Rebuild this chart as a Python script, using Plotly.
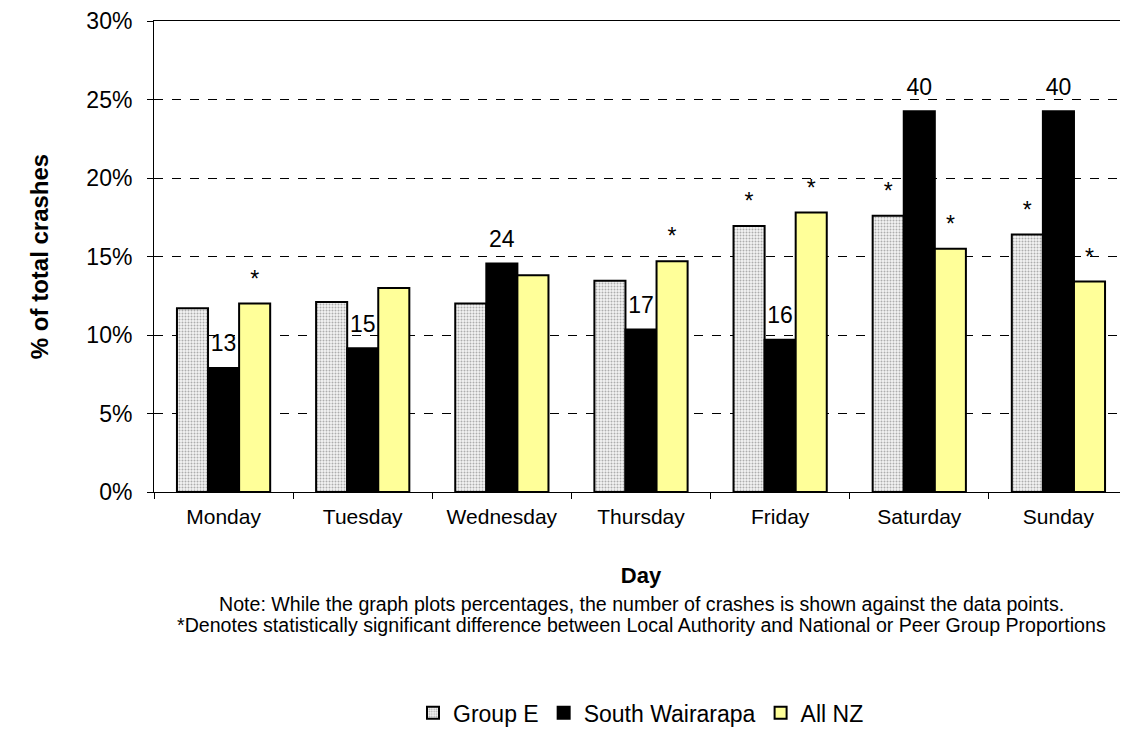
import plotly.graph_objects as go

days = ["Monday", "Tuesday", "Wednesday", "Thursday", "Friday", "Saturday", "Sunday"]
group_e = [11.7, 12.1, 12.0, 13.45, 16.95, 17.6, 16.4]
south_wairarapa = [7.9, 9.15, 14.55, 10.35, 9.7, 24.25, 24.25]
all_nz = [12.0, 13.0, 13.8, 14.7, 17.8, 15.5, 13.4]
sw_counts = ["13", "15", "24", "17", "16", "40", "40"]
group_e_sig = ["", "", "", "", "*", "*", "*"]
all_nz_sig = ["*", "", "", "*", "*", "*", "*"]

FONT = "Liberation Sans, Arial, sans-serif"

fig = go.Figure()
series = [
    ("Group E", group_e, group_e_sig,
     dict(color="white", line=dict(color="black", width=2),
          pattern=dict(shape=".", fgcolor="#666666", bgcolor="#f4f4f4", size=3, solidity=0.35))),
    ("South Wairarapa", south_wairarapa, sw_counts,
     dict(color="black", line=dict(color="black", width=2))),
    ("All NZ", all_nz, all_nz_sig,
     dict(color="#ffff99", line=dict(color="black", width=2))),
]
for i, (name, vals, labels, marker) in enumerate(series):
    fig.add_trace(go.Bar(x=days, y=vals, name=name, marker=marker,
                         offsetgroup=str(i), hoverinfo="skip"))
for i, (name, vals, labels, marker) in enumerate(series):
    fig.add_trace(go.Scatter(x=days, y=vals, text=labels, mode="markers+text",
                             textposition="top center", offsetgroup=str(i),
                             marker=dict(size=16, opacity=0),
                             textfont=dict(family=FONT, size=23, color="black"),
                             showlegend=False, hoverinfo="skip", cliponaxis=False))

fig.update_layout(
    width=1120, height=733,
    paper_bgcolor="white", plot_bgcolor="white",
    barmode="group", bargap=0.33, bargroupgap=0,
    scattermode="group", scattergap=0.33,
    margin=dict(l=146, r=0, t=13, b=249, autoexpand=False),
    font=dict(family=FONT, size=20, color="black"),
    showlegend=True,
    legend=dict(orientation="h", x=0.5, xanchor="center", y=-0.469, yanchor="middle",
                font=dict(family=FONT, size=23), itemwidth=30, traceorder="normal"),
    xaxis=dict(showline=True, linecolor="black", linewidth=1, mirror=True,
               ticks="outside", tickson="boundaries", ticklen=6, tickcolor="black",
               tickfont=dict(family=FONT, size=21), ticklabelstandoff=6, showgrid=False,
               title=dict(text="<b>Day</b>", font=dict(family=FONT, size=22), standoff=40)),
    yaxis=dict(range=[0, 30], dtick=5, ticksuffix="%", showline=True, linecolor="black",
               linewidth=1, ticks="outside", ticklen=6, tickcolor="black",
               tickfont=dict(family=FONT, size=23), ticklabelstandoff=10,
               ticklabeloverflow="allow",
               showgrid=True, gridcolor="black", griddash="dash", gridwidth=1,
               zeroline=False,
               title=dict(text="<b>% of total crashes</b>", font=dict(family=FONT, size=24), standoff=30)),
)

fig.add_annotation(text="Note: While the graph plots percentages, the number of crashes is shown against the data points.",
                   xref="paper", yref="paper", x=0.5, y=-0.238, xanchor="center", yanchor="middle",
                   showarrow=False, font=dict(family=FONT, size=19.6))
fig.add_annotation(text="*Denotes statistically significant difference between Local Authority and National or Peer Group Proportions",
                   xref="paper", yref="paper", x=0.5, y=-0.282, xanchor="center", yanchor="middle",
                   showarrow=False, font=dict(family=FONT, size=19.6))

fig.write_html("out.html")
